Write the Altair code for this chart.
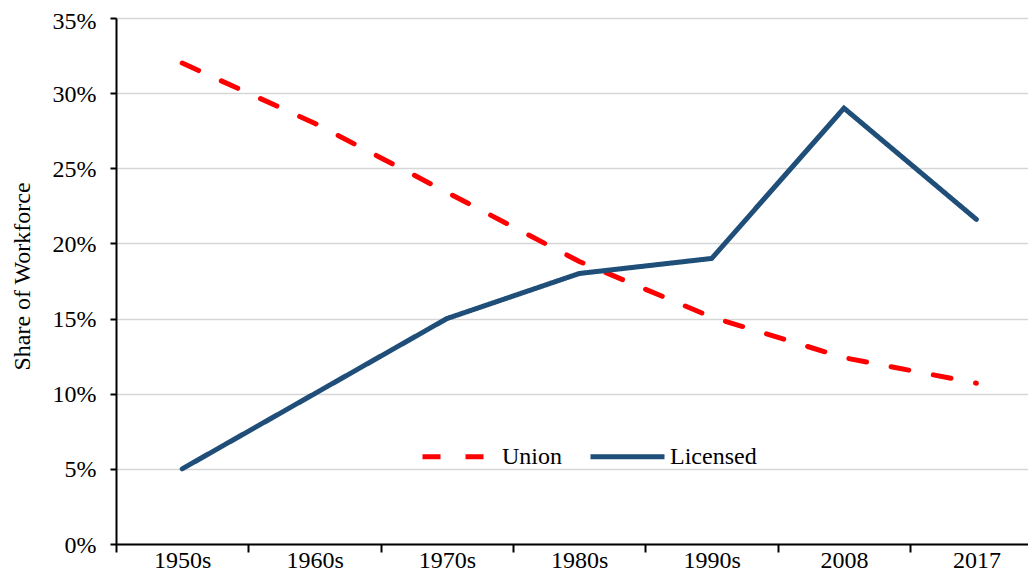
import altair as alt
import pandas as pd

categories = ["1950s", "1960s", "1970s", "1980s", "1990s", "2008", "2017"]
union = [32.0, 28.0, 23.4, 18.8, 15.1, 12.4, 10.7]
licensed = [5.0, 10.0, 15.0, 18.0, 19.0, 29.0, 21.6]
series_names = ["Union", "Licensed"]
y_ticks = [0, 5, 10, 15, 20, 25, 30, 35]

rows = []
for name, vals in zip(series_names, [union, licensed]):
    for i, (c, v) in enumerate(zip(categories, vals)):
        rows.append({"series": name, "period": c, "idx": i, "value": v})
df = pd.DataFrame(rows)

# x positions: one slot per category, ticks at the slot boundaries
x_values = [i / 2 - 0.5 for i in range(2 * len(categories))]
cat_array = "[" + ",".join("'" + c + "'" for c in categories) + "]"

FONT = "'Liberation Serif', 'Times New Roman', 'DejaVu Serif', serif"
FS = 24

legend = alt.Legend(
    title=None, orient="none", legendX=304, legendY=399, direction="horizontal",
    symbolType="stroke", symbolSize=5476, symbolStrokeWidth=5,
    labelFont=FONT, labelFontSize=FS, labelColor="black", labelOffset=3,
    columnPadding=18,
)

chart = alt.Chart(df).mark_line(
    strokeWidth=5, strokeCap="round", strokeJoin="miter"
).encode(
    x=alt.X(
        "idx:Q",
        scale=alt.Scale(domain=[-0.5, 6.39], nice=False, zero=False),
        axis=alt.Axis(
            title=None, values=x_values,
            labelExpr="datum.value % 1 == 0 ? " + cat_array + "[datum.value] : ''",
            labelAngle=0, labelOverlap=False, labelFlush=False, labelBound=False,
            labelFont=FONT, labelFontSize=FS, labelColor="black", labelPadding=-4,
            tickSize=8, tickWidth=2, tickColor="black",
            tickOpacity={"condition": {"test": "datum.value % 1 == 0", "value": 0}, "value": 1},
            domainColor="black", domainWidth=2, grid=False,
        ),
    ),
    y=alt.Y(
        "value:Q",
        scale=alt.Scale(domain=[0, 35], nice=False),
        axis=alt.Axis(
            values=y_ticks, labelExpr="datum.value + '%'", title="Share of Workforce",
            titleFont=FONT, titleFontSize=FS, titleFontWeight="normal", titleColor="black",
            titleAngle=-90, titleX=-87, titleY=258, titleAlign="center", titleBaseline="alphabetic",
            labelFont=FONT, labelFontSize=FS, labelColor="black", labelPadding=14,
            labelOffset={"condition": {"test": "datum.value == 35", "value": 3.6}, "value": 1},
            tickSize=6, tickWidth=2, tickColor="black", domainColor="black", domainWidth=2,
            gridColor="#D6D6D6", gridWidth=1.5,
        ),
    ),
    color=alt.Color(
        "series:N",
        scale=alt.Scale(domain=series_names, range=["#FF0000", "#1F4E79"]),
        legend=legend,
    ),
    strokeDash=alt.StrokeDash(
        "series:N",
        scale=alt.Scale(domain=series_names, range=[[18, 25], [1, 0]]),
        legend=legend,
    ),
    order=alt.Order("idx:Q"),
).properties(
    width=912,
    height=526,
    autosize=alt.AutoSizeParams(type="none"),
    padding={"left": 108, "top": 10, "right": 0, "bottom": 31},
).configure_view(stroke=None).configure(background="white")

chart.save("out.html", embed_options={"renderer": "svg", "actions": False})
